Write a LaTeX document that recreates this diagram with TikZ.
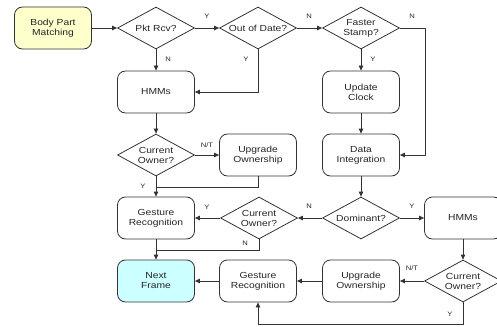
\documentclass[tikz,border=0pt]{standalone}
\usepackage{fontspec}
\setmainfont{Liberation Sans}[FakeStretch=1.17]
\usetikzlibrary{shapes.geometric,arrows.meta}
\definecolor{linec}{HTML}{333333}
\definecolor{yel}{HTML}{FFFFCC}
\definecolor{cya}{HTML}{CCFFFF}
\tikzset{
  box/.style={draw=linec, line width=0.8pt, rounded corners=8pt, minimum width=77pt, minimum height=42pt, inner sep=0pt, align=center, text=black!85, font=\fontsize{8.8}{10}\selectfont},
  dia/.style={draw=linec, line width=0.8pt, diamond, aspect=1.83, minimum width=77pt, minimum height=42pt, inner sep=0pt, align=center, text=black!85, font=\fontsize{8.8}{10}\selectfont},
  arr/.style={draw=linec, line width=0.8pt, -{Triangle[length=5pt,width=4.5pt]}},
  ln/.style={draw=linec, line width=0.8pt},
  lbl/.style={font=\fontsize{6.5}{7}\selectfont, text=black!85, inner sep=0pt}
}
\begin{document}
\begin{tikzpicture}[x=1pt,y=-1pt]
\path[use as bounding box, clip] (0,0) rectangle (497,326);
% nodes
\node[box, fill=yel] (bpm) at (53,28) {Body Part\\Matching};
\node[dia] (pkt) at (156,28) {Pkt Rcv?};
\node[dia] (ood) at (258,28) {Out of Date?};
\node[dia] (fs) at (361,28) {Faster\\Stamp?};
\node[box] (hmm1) at (156,92) {HMMs};
\node[box] (uc) at (361,92) {Update\\Clock};
\node[dia] (co1) at (156,155) {Current\\Owner?};
\node[box] (uo1) at (258,155) {Upgrade\\Ownership};
\node[box] (di) at (361,155) {Data\\Integration};
\node[box] (gr1) at (156,218) {Gesture\\Recognition};
\node[dia] (co2) at (259,218) {Current\\Owner?};
\node[dia] (dom) at (361,218) {Dominant?};
\node[box] (hmm2) at (463,218) {HMMs};
\node[box, fill=cya] (nf) at (156,281) {Next\\Frame};
\node[box] (gr2) at (258,281) {Gesture\\Recognition};
\node[box] (uo2) at (361,281) {Upgrade\\Ownership};
\node[dia] (co3) at (463,281) {Current\\Owner?};
% coordinates
\coordinate (rt) at (425,155);
\coordinate (j1) at (156,187);
\coordinate (j2) at (156,250);
\coordinate (bot) at (463,324);
% connectors
\draw[arr] (bpm) -- (pkt);
\draw[arr] (pkt) -- (ood);
\draw[arr] (ood) -- (fs);
\draw[arr] (pkt) -- (hmm1);
\draw[arr] (ood.south) |- (hmm1.east);
\draw[arr] (fs) -- (uc);
\draw[arr] (fs.east) -| (rt) -- (di.east);
\draw[arr] (uc) -- (di);
\draw[arr] (hmm1) -- (co1);
\draw[arr] (co1) -- (uo1);
\draw[arr] (co1) -- (gr1);
\draw[ln] (uo1.south) |- (j1);
\draw[arr] (di) -- (dom);
\draw[arr] (dom) -- (co2);
\draw[arr] (dom) -- (hmm2);
\draw[arr] (co2) -- (gr1);
\draw[ln] (co2.south) |- (j2);
\draw[arr] (gr1) -- (nf);
\draw[arr] (gr2) -- (nf);
\draw[arr] (hmm2) -- (co3);
\draw[arr] (co3) -- (uo2);
\draw[arr] (uo2) -- (gr2);
\draw[arr] (co3.south) -- (bot) -| (gr2.south);
% labels
\node[lbl] (l1) at (207,16) {Y};
\node[lbl] (l2) at (309,16) {N};
\node[lbl] (l3) at (412,16) {N};
\node[lbl] (l4) at (168,59) {N};
\node[lbl] (l5) at (246,59) {Y};
\node[lbl] (l6) at (373,59) {Y};
\node[lbl] (l7) at (207,145) {N/T};
\node[lbl] (l8) at (143,186) {Y};
\node[lbl] (l9) at (207,207) {Y};
\node[lbl] (l10) at (245,243) {N};
\node[lbl] (l11) at (309,206) {N};
\node[lbl] (l12) at (412,206) {Y};
\node[lbl] (l13) at (412,268) {N/T};
\node[lbl] (l14) at (450,314) {Y};
\end{tikzpicture}
\end{document}
